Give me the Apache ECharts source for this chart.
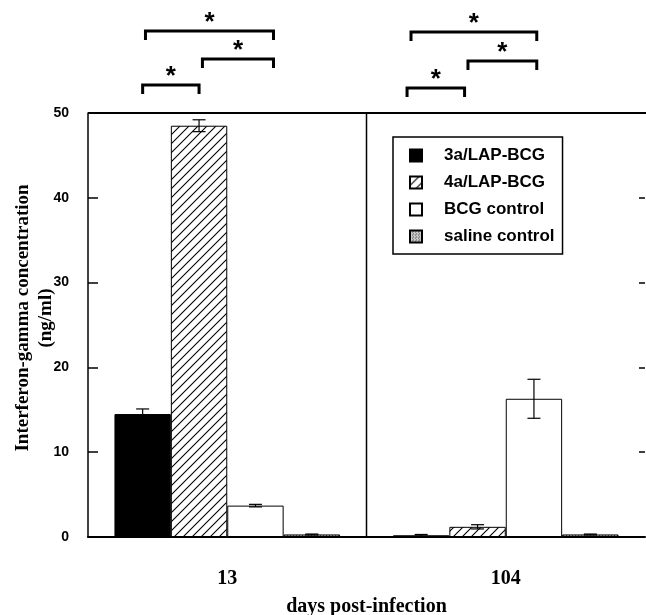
<!DOCTYPE html>
<html>
<head>
<meta charset="utf-8">
<script src="https://cdn.jsdelivr.net/npm/echarts@6/dist/echarts.min.js"></script>
<style>
html, body { margin: 0; padding: 0; background: #fff; }
#chart { width: 646px; height: 615px; }
</style>
</head>
<body>
<div id="chart"></div>
<script>
// values
const days = ['13', '104'];
const groupNames = ['3a/LAP-BCG', '4a/LAP-BCG', 'BCG control', 'saline control'];
const lap3a = [14.5, 0.2];
const lap4a = [48.5, 1.2];
const bcgControl = [3.7, 16.3];
const salineControl = [0.3, 0.3];
const lap3aErr = [0.6, 0.1];
const lap4aErr = [0.7, 0.25];
const bcgControlErr = [0.15, 2.3];
const salineControlErr = [0.05, 0.05];
const yTickValues = [10, 20, 30, 40];
// significance brackets: day index, from bar position, to bar position, height above the frame (px)
const brackets = [
  [0, 0.0, 1.0, 28], [0, 1.06, 2.32, 54], [0, 0.05, 2.32, 82],
  [1, -0.25, 0.77, 25], [1, 0.83, 2.05, 52], [1, -0.18, 2.05, 81]
];

const serif = 'Liberation Serif';
const sans = 'Liberation Sans';
const catGap = 0.19;

//填充图案
function hatchPattern() {
  const c = document.createElement('canvas');
  c.width = 9; c.height = 9;
  const ctx = c.getContext('2d');
  ctx.fillStyle = '#fff';
  ctx.fillRect(0, 0, 9, 9);
  ctx.strokeStyle = '#000';
  ctx.lineWidth = 1.1;
  ctx.beginPath();
  ctx.moveTo(-1, 10); ctx.lineTo(10, -1);
  ctx.moveTo(-1, 1); ctx.lineTo(1, -1);
  ctx.moveTo(8, 10); ctx.lineTo(10, 8);
  ctx.stroke();
  return c;
}
function stipplePattern() {
  const c = document.createElement('canvas');
  c.width = 3; c.height = 3;
  const ctx = c.getContext('2d');
  ctx.fillStyle = '#c8c8c8';
  ctx.fillRect(0, 0, 3, 3);
  ctx.fillStyle = '#555';
  ctx.fillRect(0, 0, 1, 1);
  ctx.fillRect(2, 1, 1, 1);
  return c;
}

const fills = ['#000', { image: hatchPattern(), repeat: 'repeat' }, '#fff', { image: stipplePattern(), repeat: 'repeat' }];
const values = [lap3a, lap4a, bcgControl, salineControl];
const errs = [lap3aErr, lap4aErr, bcgControlErr, salineControlErr];

const errData = [];
values.forEach((arr, bar) => {
  arr.forEach((v, cat) => errData.push([cat, bar, v, errs[bar][cat]]));
});

const barSeries = groupNames.map((name, i) => ({
  name,
  type: 'bar',
  data: values[i],
  barGap: 0,
  barCategoryGap: (catGap * 100) + '%',
  itemStyle: { color: fills[i], borderColor: '#000', borderWidth: 1 },
  emphasis: { disabled: true },
  animation: false
}));

const chart = echarts.init(document.getElementById('chart'));
chart.setOption({
  animation: false,
  grid: { left: 88, right: 1, top: 113, bottom: 78, outerBoundsMode: 'none', containLabel: false },
  legend: {
    data: groupNames,
    orient: 'vertical',
    left: 393,
    top: 137,
    icon: 'rect',
    itemWidth: 12,
    itemHeight: 12,
    itemGap: 10,
    padding: [10, 8, 9, 16],
    borderColor: '#000',
    borderWidth: 1.5,
    selectedMode: false,
    textStyle: { fontFamily: sans, fontWeight: 'bold', fontSize: 17, color: '#000', padding: [0, 0, 0, 17] }
  },
  xAxis: {
    type: 'category',
    data: days,
    axisLine: { lineStyle: { color: '#000', width: 2 } },
    axisTick: { show: false },
    axisLabel: { fontFamily: serif, fontWeight: 'bold', fontSize: 20, color: '#000', margin: 32 },
    name: 'days post-infection',
    nameLocation: 'middle',
    nameGap: 60,
    nameMoveOverlap: false,
    nameTextStyle: { fontFamily: serif, fontWeight: 'bold', fontSize: 20, color: '#000' }
  },
  yAxis: [
    {
      type: 'value',
      min: 0, max: 50, interval: 10,
      axisLine: { show: true, lineStyle: { color: '#000', width: 1.5 } },
      axisTick: { show: true, inside: true, length: 10, customValues: yTickValues, lineStyle: { color: '#000', width: 1.5 } },
      axisLabel: { fontFamily: sans, fontWeight: 'bold', fontSize: 14, color: '#000', margin: 19 },
      splitLine: { show: false },
      name: 'Interferon-gamma concentration\n(ng/ml)',
      nameLocation: 'middle',
      nameRotate: 90,
      nameGap: 30,
      nameMoveOverlap: false,
      nameTextStyle: { fontFamily: serif, fontWeight: 'bold', fontSize: 19, color: '#000', lineHeight: 23, padding: [0, 0, 0, 14] }
    },
    {
      type: 'value',
      position: 'right',
      min: 0, max: 50, interval: 10,
      axisLine: { show: false },
      axisTick: { show: true, inside: true, length: 6, customValues: yTickValues, lineStyle: { color: '#000', width: 1.5 } },
      axisLabel: { show: false },
      splitLine: { show: false }
    }
  ],
  series: barSeries.concat([{
    type: 'custom',
    z: 10,
    silent: true,
    data: errData,
    renderItem: function (params, api) {
      const cat = api.value(0), bar = api.value(1), mean = api.value(2), err = api.value(3);
      const catW = api.size([1, 0])[0];
      const barW = catW * (1 - catGap) / 4;
      const cx = api.coord([cat, mean])[0] + (bar - 1.5) * barW;
      const yHi = api.coord([cat, mean + err])[1];
      const yLo = api.coord([cat, Math.max(mean - err, 0)])[1];
      const cap = 6.5;
      const st = { stroke: '#000', lineWidth: 1.2 };
      return {
        type: 'group',
        children: [
          { type: 'line', shape: { x1: cx, y1: yHi, x2: cx, y2: yLo }, style: st },
          { type: 'line', shape: { x1: cx - cap, y1: yHi, x2: cx + cap, y2: yHi }, style: st },
          { type: 'line', shape: { x1: cx - cap, y1: yLo, x2: cx + cap, y2: yLo }, style: st }
        ]
      };
    }
  }])
});

// frame line, divider and significance brackets
function drawExtras() {
  const c0 = chart.convertToPixel({ xAxisIndex: 0 }, days[0]);
  const c1 = chart.convertToPixel({ xAxisIndex: 0 }, days[1]);
  const catW = c1 - c0;
  const barW = catW * (1 - catGap) / 4;
  const yTop = chart.convertToPixel({ yAxisIndex: 0 }, 50);
  const yBot = chart.convertToPixel({ yAxisIndex: 0 }, 0);
  const centers = [c0, c1];
  const els = [
    { type: 'line', shape: { x1: c0 - catW / 2, y1: yTop, x2: chart.getWidth(), y2: yTop }, style: { stroke: '#000', lineWidth: 2 } },
    { type: 'line', shape: { x1: (c0 + c1) / 2, y1: yTop, x2: (c0 + c1) / 2, y2: yBot }, style: { stroke: '#000', lineWidth: 1.5 } }
  ];
  brackets.forEach(([cat, p0, p1, h]) => {
    const x0 = centers[cat] + (p0 - 1.5) * barW;
    const x1 = centers[cat] + (p1 - 1.5) * barW;
    const y = yTop - h;
    els.push({
      type: 'polyline',
      shape: { points: [[x0, y + 9], [x0, y], [x1, y], [x1, y + 9]] },
      style: { stroke: '#000', lineWidth: 3, fill: null }
    });
    els.push({
      type: 'text',
      x: (x0 + x1) / 2,
      y: y + 5,
      style: { text: '*', fontFamily: sans, fontWeight: 'bold', fontSize: 26, fill: '#000', align: 'center', verticalAlign: 'bottom' }
    });
  });
  chart.setOption({ graphic: els });
}
drawExtras();
</script>
</body>
</html>
